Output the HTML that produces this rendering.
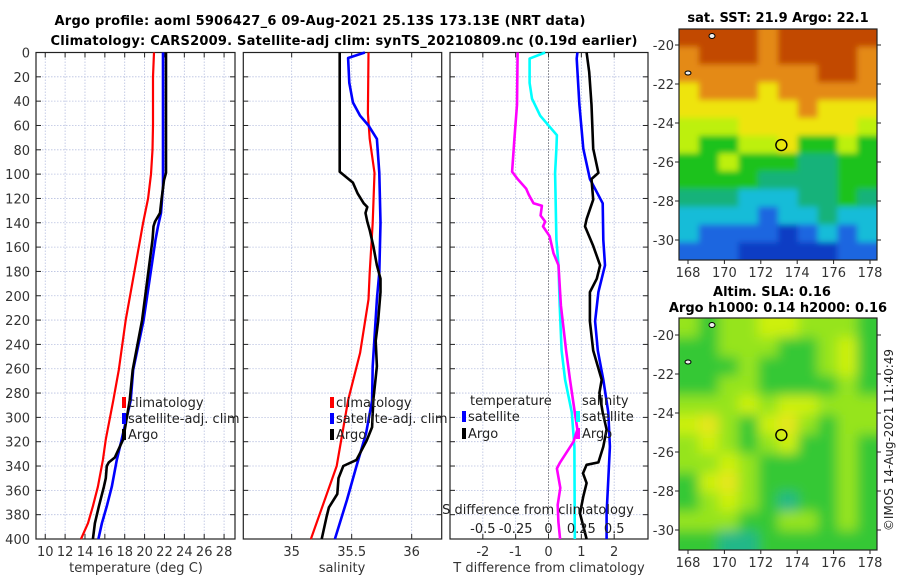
<!DOCTYPE html>
<html><head><meta charset="utf-8"><style>
html,body{margin:0;padding:0;background:#fff}
svg{display:block;font-family:"DejaVu Sans","Liberation Sans",sans-serif}
</style></head><body>
<svg id="c" width="900" height="580" viewBox="0 0 900 580" xmlns="http://www.w3.org/2000/svg">
<defs>
<filter id="blurS" x="-5%" y="-5%" width="110%" height="110%"><feGaussianBlur stdDeviation="3"/></filter>
<filter id="blurL" x="-5%" y="-5%" width="110%" height="110%"><feGaussianBlur stdDeviation="6"/></filter>
<clipPath id="clipS"><rect x="679" y="29" width="198" height="231"/></clipPath>
<clipPath id="clipL"><rect x="679" y="318" width="198" height="232"/></clipPath>
</defs>
<text x="320" y="25" font-size="13" font-weight="bold" text-anchor="middle" textLength="531">Argo profile: aoml 5906427_6 09-Aug-2021 25.13S 173.13E (NRT data)</text>
<text x="344" y="45" font-size="13" font-weight="bold" text-anchor="middle" textLength="587">Climatology: CARS2009. Satellite-adj clim: synTS_20210809.nc (0.19d earlier)</text>
<text x="778" y="22" font-size="13" font-weight="bold" text-anchor="middle">sat. SST: 21.9 Argo: 22.1</text>
<text x="772" y="296" font-size="13" font-weight="bold" text-anchor="middle">Altim. SLA: 0.16</text>
<text x="778" y="312" font-size="13" font-weight="bold" text-anchor="middle">Argo h1000: 0.14 h2000: 0.16</text>
<text transform="translate(893,440) rotate(-90)" font-size="12" text-anchor="middle" fill="#222">©IMOS 14-Aug-2021 11:40:49</text>
</svg>
<script>
// ---------- data ----------
const depthTicks=[0,20,40,60,80,100,120,140,160,180,200,220,240,260,280,300,320,340,360,380,400];
const tempTicks=[10,12,14,16,18,20,22,24,26,28];
const salTicks=[35,35.5,36];
const tdiffTicks=[-2,-1,0,1,2];
const sdiffTicks=[-0.5,-0.25,0,0.25,0.5];
const sdiffTickLabels=["-0.5","-0.25","0","0.25","0.5"];
// temperature panel
const tClimD=[0,20,60,80,100,120,140,154,220,261,286,318,335,357,373,387,400];
const tClimV=[20.95,20.85,20.85,20.8,20.65,20.35,19.85,19.55,18.1,17.4,16.85,16.1,15.8,15.3,14.8,14.3,13.6];
const tSatD=[0,110,121,132,143,154,220,261,286,318,335,357,373,387,400];
const tSatV=[21.85,21.85,21.75,21.65,21.35,21.1,19.9,18.85,18.6,17.7,17.2,16.7,16.2,15.7,15.35];
const tArgoD=[0,99,105,121,132,139,143,154,220,261,286,318,333,337,340,350,357,373,387,400];
const tArgoV=[22.15,22.15,21.95,21.7,21.55,21.05,20.9,20.8,19.75,18.8,18.5,17.85,17.0,16.4,16.2,16.1,15.9,15.4,15.0,14.8];
// salinity panel
const sClimD=[0,50,71,99,140,181,203,247,286,340,400];
const sClimV=[35.64,35.635,35.65,35.69,35.675,35.65,35.64,35.57,35.47,35.375,35.16];
const sSatD=[0,4.5,25,41,52,60,71,99,140,181,203,258,286,313,340,368,400];
const sSatV=[35.61,35.47,35.48,35.51,35.57,35.64,35.71,35.73,35.74,35.73,35.71,35.675,35.67,35.62,35.54,35.46,35.36];
const sArgoD=[0,98,107,116,124,127,132,139,146,159,175,186,197,221,237,258,286,308,319,335,340,350,363,374,382,400];
const sArgoV=[35.4,35.4,35.51,35.55,35.6,35.63,35.615,35.63,35.65,35.68,35.71,35.74,35.74,35.72,35.7,35.71,35.68,35.67,35.625,35.54,35.43,35.39,35.38,35.31,35.29,35.25];
// difference panel
const dTSatD=[0,5,43,79,104,124,154,175,197,221,245,269,296,324,351,379,400];
const dTSatV=[0.88,0.86,0.94,1.06,1.26,1.65,1.67,1.72,1.52,1.42,1.5,1.67,1.82,1.87,1.82,1.77,1.77];
const dTArgoD=[0,16,43,79,99,104,121,137,143,159,175,186,197,221,245,269,280,296,310,324,337,339,346,354,365,379,400];
const dTArgoV=[1.16,1.24,1.31,1.36,1.52,1.31,1.36,1.16,1.11,1.36,1.57,1.47,1.26,1.26,1.36,1.62,1.55,1.65,1.77,1.67,1.52,1.16,1.05,1.16,1.06,0.96,1.16];
const dSSatD=[0,5,25,38,52,68,79,99,154,175,208,245,269,296,324,400];
const dSSatV=[-0.025,-0.144,-0.144,-0.126,-0.063,0.064,0.06,0.05,0.06,0.076,0.085,0.1,0.126,0.177,0.197,0.2];
const dSArgoD=[0,43,71,98,104,112,117,124,126,134,139,143,151,165,175,208,245,269,296,310,320,337,342,358,372,386,400];
const dSArgoV=[-0.235,-0.24,-0.26,-0.277,-0.235,-0.17,-0.15,-0.114,-0.05,-0.06,-0.025,-0.042,0.008,0.038,0.076,0.094,0.134,0.164,0.2,0.22,0.19,0.088,0.064,0.09,0.07,0.075,0.088];
// maps (coarse colour-class grids, rows north->south)
const sstRows=["RRRRORRRRR","ORRRORRRRO","OOOOOOORRO","YOOOYOOOOO","YYYYYYOYYY","LLLYYYYYYL","LGGLLYGGLG","GGLGGGTTGG","GGGGTTTTGG","TTTCCCTTGT","CCCCBCCTCC","CBBBBDBCBC","BBBDDDDDBB"];
const slaRows=["LGLLYYLLLG","GGLLLGGLYG","GGGLGGGLYG","GGLLGGGGLG","LLLYLYYLLL","YOLGYOLGLL","LYLGLYGGLG","LLYLGGGGLG","GYOLGGGGLG","GLYLGTGGLG","LLLGGLLGLG","GGTTGGGGGG"];
const mapLonTicks=[168,170,172,174,176,178];
const mapLatTicks=[-20,-22,-24,-26,-28,-30];
const argoLon=173.13, argoLat=-25.13;

// ---------- drawing ----------
const NS="http://www.w3.org/2000/svg";
const svg=document.getElementById('c');
function E(tag,attrs,parent){const e=document.createElementNS(NS,tag);for(const k in attrs)e.setAttribute(k,attrs[k]);(parent||svg).appendChild(e);return e;}
const Y0=52.5,Y1=539;
const yD=d=>Y0+(d/400)*(Y1-Y0);
function panel(name,x0,x1,vmin,vmax,gridVals,tickVals,labels,labelY){
  const g=E('g',{});
  
  
  const xf=v=>x0+(v-vmin)/(vmax-vmin)*(x1-x0);
  gridVals.forEach(v=>{const l=E('line',{x1:xf(v),x2:xf(v),y1:Y0,y2:Y1,stroke:'#b8c0e0','stroke-width':0.8,'stroke-dasharray':'1.5,1.5'},g);
    });
  depthTicks.forEach(d=>{if(d===0||d===400)return;const l=E('line',{x1:x0,x2:x1,y1:yD(d),y2:yD(d),stroke:'#b8c0e0','stroke-width':0.8,'stroke-dasharray':'1.5,1.5'},g);
    
    E('line',{x1:x0,x2:x0+5,y1:yD(d),y2:yD(d),stroke:'#222','stroke-width':1},g);
    E('line',{x1:x1-5,x2:x1,y1:yD(d),y2:yD(d),stroke:'#222','stroke-width':1},g);});
  tickVals.forEach((v,i)=>{
    E('line',{x1:xf(v),x2:xf(v),y1:Y1,y2:Y1-5,stroke:'#222','stroke-width':1},g);
    E('line',{x1:xf(v),x2:xf(v),y1:Y0,y2:Y0+5,stroke:'#222','stroke-width':1},g);
    if(labels){const t=E('text',{x:xf(v),y:labelY,'font-size':13,'text-anchor':'middle',fill:'#333'},g);t.textContent=labels[i];
      }
  });
  const fr=E('rect',{x:x0,y:Y0,width:x1-x0,height:Y1-Y0,fill:'none',stroke:'#222','stroke-width':1.2},g);
  
  return {g,xf};
}
function line(g,xf,D,V,color,w,name){
  const pts=D.map((d,i)=>xf(V[i]).toFixed(1)+','+yD(d).toFixed(1)).join(' ');
  const p=E('polyline',{points:pts,fill:'none',stroke:color,'stroke-width':w,'stroke-linejoin':'round'},g);
  
  
}
function txt(x,y,s,size,anchor,name,fill){const t=E('text',{x:x,y:y,'font-size':size,'text-anchor':anchor||'start',fill:fill||'#222'});t.textContent=s;
  return t;}
function legend(x,y,color,label){const r=E('rect',{x:x-2,y:y-10,width:4,height:11,fill:color});
  
  txt(x+4,y,label,13,'start','legend-entry');}

// depth axis labels
depthTicks.forEach(d=>{txt(30,yD(d)+5,String(d),13,'end','y-tick-label','#333');});

// panel 1 temperature
const p1=panel('temperature-panel',36,235,9.07,29.1,[10,12,14,16,18,20,22,24,26,28],tempTicks,tempTicks.map(String),556);
line(p1.g,p1.xf,tClimD,tClimV,'#ff0000',2.2,'temp-climatology-line');
line(p1.g,p1.xf,tSatD,tSatV,'#0000ff',2.6,'temp-satellite-line');
line(p1.g,p1.xf,tArgoD,tArgoV,'#000000',2.6,'temp-argo-line');
txt(136,572,'temperature (deg C)',13,'middle','x-axis-title','#333');
legend(124,407,'#ff0000','climatology');
legend(124,423,'#0000ff','satellite-adj. clim');
legend(124,439,'#000000','Argo');

// panel 2 salinity
const p2=panel('salinity-panel',243.3,441.7,34.597,36.25,[35,35.5,36],salTicks,['35','35.5','36'],556);
line(p2.g,p2.xf,sClimD,sClimV,'#ff0000',2.2,'sal-climatology-line');
line(p2.g,p2.xf,sSatD,sSatV,'#0000ff',2.6,'sal-satellite-line');
line(p2.g,p2.xf,sArgoD,sArgoV,'#000000',2.6,'sal-argo-line');
txt(342,572,'salinity',13,'middle','x-axis-title','#333');
legend(332,407,'#ff0000','climatology');
legend(332,423,'#0000ff','satellite-adj. clim');
legend(332,439,'#000000','Argo');

// panel 3 differences
const p3=panel('difference-panel',450,648,-3.0,3.03,[-2,-1,0,1,2],tdiffTicks,tdiffTicks.map(String),556);
const xs=v=>p3.xf(v*4);
E('line',{x1:p3.xf(0),x2:p3.xf(0),y1:Y0,y2:Y1,stroke:'#444','stroke-width':1,'stroke-dasharray':'1,2'},p3.g);
line(p3.g,p3.xf,dTSatD,dTSatV,'#0000ff',2.6,'tdiff-satellite-line');
line(p3.g,p3.xf,dTArgoD,dTArgoV,'#000000',2.6,'tdiff-argo-line');
line(p3.g,v=>xs(v),dSSatD,dSSatV,'#00ffff',2.6,'sdiff-satellite-line');
line(p3.g,v=>xs(v),dSArgoD,dSArgoV,'#ff00ff',2.6,'sdiff-argo-line');
sdiffTicks.forEach((v,i)=>{txt(xs(v),533,sdiffTickLabels[i],13,'middle','s-tick-label','#222');});
txt(538,514,'S difference from climatology',13,'middle','s-axis-title','#222');
txt(549,572,'T difference from climatology',13,'middle','t-axis-title','#333');
txt(470,405,'temperature',13,'start','legend-title');
legend(464,421,'#0000ff','satellite');
legend(464,438,'#000000','Argo');
txt(582,405,'salinity',13,'start','legend-title');
legend(578,421,'#00ffff','satellite');
legend(578,438,'#ff00ff','Argo');

// maps
const sstCol={R:'#c24a04',O:'#e48a12',Y:'#eee40a',L:'#bdf00a',G:'#1ec21e',T:'#12b27a',C:'#12bcd8',B:'#1a66e0',D:'#0c3cc4'};
const slaCol={G:'#34c834',L:'#96e41e',Y:'#cdf00e',O:'#e6e61e',T:'#22b888'};
function map(name,x0,y0,w,h,rows,cols,lat20y,clip,filt){
  const g=E('g',{});
  
  
  const cg=E('g',{'clip-path':'url(#'+clip+')'},g);
  const ig=E('g',{filter:'url(#'+filt+')'},cg);
  const nr=rows.length,nc=rows[0].length,cw=w/nc,ch=h/nr;
  rows.forEach((r,i)=>{[...r].forEach((c,j)=>{
    const ex=(j===0?-12:0), ey=(i===0?-12:0), ew=(j===nc-1?12:0)-ex, eh=(i===nr-1?12:0)-ey;
    E('rect',{x:x0+j*cw+ex,y:y0+i*ch+ey,width:cw+0.6+ew,height:ch+0.6+eh,fill:cols[c]},ig);});});
  const lx=lon=>688+(lon-168)*18.2, ly=lat=>lat20y+(-20-lat)*19.5;
  E('rect',{x:x0,y:y0,width:w,height:h,fill:'none',stroke:'#222','stroke-width':1.2},g);
  mapLonTicks.forEach(l=>{E('line',{x1:lx(l),x2:lx(l),y1:y0+h,y2:y0+h+4,stroke:'#222'},g);
    txt(lx(l),y0+h+17,String(l),13,'middle','map-lon-label','#333');});
  mapLatTicks.forEach(l=>{E('line',{x1:x0-4,x2:x0,y1:ly(l),y2:ly(l),stroke:'#222'},g);
    E('line',{x1:x0+w,x2:x0+w+4,y1:ly(l),y2:ly(l),stroke:'#222'},g);
    txt(x0-5,ly(l)+5,String(l),13,'end','map-lat-label','#333');});
  const c=E('circle',{cx:lx(argoLon),cy:ly(argoLat),r:5.5,fill:'none',stroke:'#000','stroke-width':1.4},g);
  
  
  E('ellipse',{cx:712,cy:y0+7,rx:3,ry:2.5,fill:'#eee',stroke:'#000'},g);
  E('ellipse',{cx:688,cy:y0+44,rx:3,ry:2,fill:'#eee',stroke:'#000'},g);
}
map('sst-map',679,29,198,231,sstRows,sstCol,45,'clipS','blurS');
map('sla-map',679,318,198,232,slaRows,slaCol,335,'clipL','blurL');
</script>
</body></html>
